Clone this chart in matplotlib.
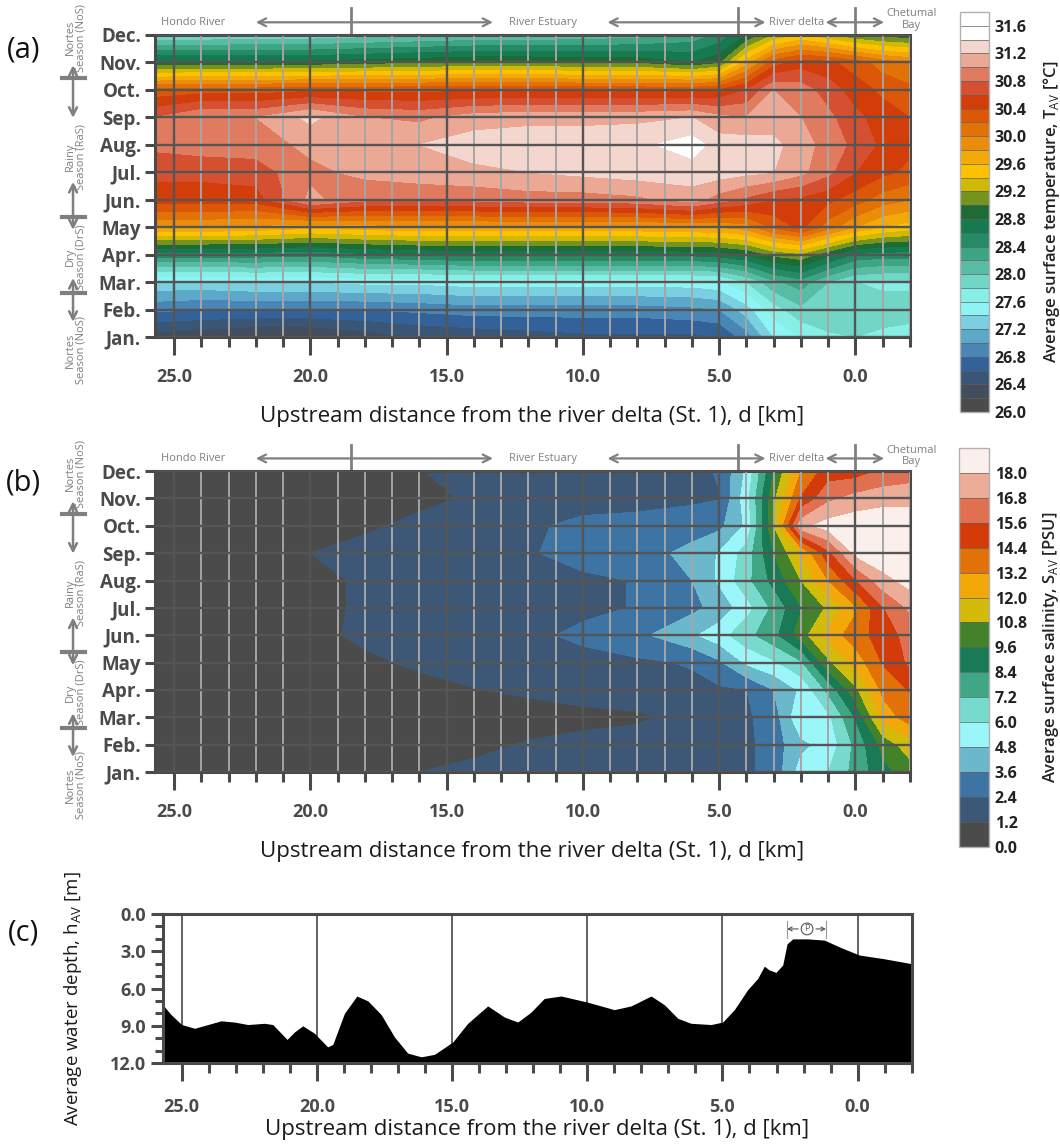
import numpy as np
import matplotlib
matplotlib.use("Agg")
import matplotlib.pyplot as plt
from matplotlib import transforms
from matplotlib.lines import Line2D
from matplotlib.ticker import MultipleLocator

plt.rcParams['font.family'] = ['Open Sans', 'DejaVu Sans']
plt.rcParams['mathtext.fontset'] = 'custom'
plt.rcParams['mathtext.rm'] = 'Open Sans'

# Sampled columns along the river, upstream distance from the delta [km]
dist_km = [25.7, 24, 22, 20, 18, 16, 14, 12, 10, 8, 6, 5, 4, 3, 2, 1, 0, -1, -2]
month_num = list(range(1, 13))
month_labels = ['Jan.', 'Feb.', 'Mar.', 'Apr.', 'May', 'Jun.',
                'Jul.', 'Aug.', 'Sep.', 'Oct.', 'Nov.', 'Dec.']

# (a) average surface temperature [degC], one row per month (Jan..Dec)
temp_av = [
    [26.3, 26.25, 26.15, 26.15, 26.3, 26.4, 26.45, 26.5, 26.55, 26.55, 26.55, 26.6, 26.9, 27.4, 27.6, 27.75, 27.8, 27.75, 27.7],
    [26.85, 26.8, 26.8, 26.8, 26.8, 26.85, 26.9, 26.9, 26.9, 26.9, 26.95, 27.0, 27.3, 27.7, 27.95, 28.0, 27.95, 27.9, 27.9],
    [27.35, 27.35, 27.4, 27.4, 27.45, 27.45, 27.5, 27.5, 27.5, 27.5, 27.5, 27.55, 27.8, 28.15, 28.3, 28.0, 27.8, 27.75, 27.75],
    [28.5, 28.5, 28.5, 28.45, 28.55, 28.6, 28.65, 28.65, 28.65, 28.65, 28.65, 28.7, 28.8, 29.05, 29.15, 28.85, 28.55, 28.5, 28.5],
    [29.8, 29.8, 29.75, 29.65, 29.7, 29.75, 29.75, 29.75, 29.75, 29.75, 29.8, 29.8, 29.9, 30.25, 30.45, 30.1, 29.8, 29.6, 29.5],
    [30.5, 30.5, 30.5, 31.05, 30.85, 30.85, 30.85, 30.9, 30.9, 30.95, 31.1, 30.9, 30.75, 30.6, 30.55, 30.45, 30.3, 30.1, 30.0],
    [30.65, 30.65, 30.7, 30.95, 31.05, 31.1, 31.15, 31.2, 31.25, 31.3, 31.3, 31.3, 31.25, 31.2, 31.05, 30.85, 30.6, 30.45, 30.35],
    [30.85, 30.9, 30.9, 31.05, 31.1, 31.2, 31.3, 31.3, 31.3, 31.35, 31.5, 31.3, 31.3, 31.25, 31.1, 30.9, 30.75, 30.55, 30.45],
    [30.8, 31.0, 31.0, 31.25, 31.0, 30.95, 31.1, 31.15, 31.15, 31.15, 31.2, 31.05, 31.0, 31.1, 31.0, 30.85, 30.65, 30.5, 30.4],
    [30.25, 30.3, 30.3, 30.35, 30.35, 30.35, 30.35, 30.35, 30.35, 30.35, 30.35, 30.4, 30.6, 31.0, 30.9, 30.7, 30.5, 30.35, 30.25],
    [28.85, 28.85, 28.85, 28.85, 28.9, 28.95, 29.0, 29.0, 28.95, 28.95, 28.8, 28.95, 29.7, 30.3, 30.5, 30.45, 30.3, 30.1, 30.0],
    [27.8, 27.8, 27.85, 27.85, 27.9, 27.95, 28.0, 28.0, 28.05, 28.1, 28.25, 28.45, 28.8, 29.2, 29.4, 29.2, 29.0, 28.9, 28.85],
]

# (b) average surface salinity [PSU], one row per month (Jan..Dec)
sal_av = [
    [0.5, 0.5, 0.5, 0.6, 0.8, 1.2, 1.5, 1.7, 1.8, 1.9, 1.9, 2.0, 2.2, 2.8, 5.3, 6.0, 7.6, 9.2, 10.2],
    [0.4, 0.4, 0.4, 0.4, 0.5, 0.7, 0.9, 1.3, 1.6, 1.8, 1.9, 2.0, 2.1, 3.0, 4.5, 5.2, 7.5, 10.0, 11.5],
    [0.3, 0.3, 0.3, 0.3, 0.4, 0.5, 0.6, 0.7, 0.8, 1.0, 1.6, 1.9, 2.2, 3.0, 5.8, 5.7, 8.5, 12.5, 13.8],
    [0.4, 0.4, 0.4, 0.5, 0.7, 0.9, 1.15, 1.4, 1.8, 1.9, 2.1, 2.2, 2.4, 3.6, 5.0, 7.5, 10.5, 13.5, 14.5],
    [0.5, 0.5, 0.5, 0.8, 1.05, 1.35, 1.8, 2.0, 2.1, 2.2, 2.5, 3.4, 5.0, 5.8, 7.0, 10.5, 12.5, 14.5, 15.8],
    [0.5, 0.5, 0.6, 1.0, 1.35, 1.8, 2.0, 2.2, 2.6, 3.3, 4.6, 5.5, 6.8, 8.0, 10.2, 12.5, 13.8, 15.0, 16.0],
    [0.5, 0.5, 0.6, 0.9, 1.35, 1.7, 1.9, 2.1, 2.2, 2.45, 3.3, 4.0, 5.5, 7.5, 9.5, 11.0, 13.0, 15.5, 17.0],
    [0.5, 0.5, 0.6, 0.9, 1.35, 1.7, 1.9, 2.1, 2.2, 2.45, 3.6, 5.0, 6.8, 8.8, 10.8, 13.2, 15.5, 17.5, 18.5],
    [0.5, 0.5, 0.6, 1.2, 1.6, 1.8, 2.0, 2.3, 2.8, 3.0, 4.0, 4.9, 6.5, 9.6, 12.0, 15.2, 18.3, 19.0, 19.0],
    [0.5, 0.5, 0.5, 0.7, 1.0, 1.5, 1.8, 2.2, 2.7, 2.8, 3.0, 3.3, 5.0, 10.8, 17.6, 18.5, 18.8, 19.0, 19.0],
    [0.5, 0.5, 0.5, 0.5, 0.6, 0.9, 1.35, 1.8, 1.9, 2.0, 2.2, 2.35, 5.5, 10.5, 14.5, 16.5, 17.2, 17.5, 17.5],
    [0.5, 0.5, 0.5, 0.6, 0.8, 1.15, 1.6, 1.8, 1.9, 2.0, 2.1, 2.5, 5.0, 9.6, 13.2, 15.0, 15.0, 15.8, 16.2],
]

# (c) average water depth profile
depth_km = [25.7, 25.39, 25.0, 24.52, 24.03, 23.54, 23.05, 22.55, 21.94, 21.63, 21.1, 20.83,
            20.52, 20.09, 19.6, 19.41, 18.98, 18.52, 18.11, 17.62, 17.13, 16.64, 16.14, 15.65,
            14.97, 14.42, 13.68, 13.06, 12.57, 12.08, 11.59, 10.97, 9.98, 9.0, 8.38, 7.64,
            7.15, 6.65, 6.16, 5.42, 4.99, 4.56, 4.07, 3.7, 3.45, 3.27, 3.02, 2.77, 2.61,
            2.4, 1.85, 1.23, 0.62, -0.06, -0.98, -2.0]
depth_m = [7.3, 8.1, 8.9, 9.2, 8.9, 8.6, 8.7, 8.9, 8.8, 8.9, 10.1, 9.5,
           9.0, 9.6, 10.7, 10.5, 8.0, 6.6, 7.0, 8.1, 9.9, 11.2, 11.5, 11.3,
           10.3, 8.8, 7.4, 8.3, 8.7, 7.9, 6.8, 6.6, 7.1, 7.7, 7.4, 6.6,
           7.3, 8.4, 8.8, 8.9, 8.7, 7.7, 6.1, 5.2, 4.2, 4.5, 4.7, 4.1, 2.4,
           2.0, 2.0, 2.1, 2.7, 3.3, 3.6, 4.0]

temp_levels = np.round(np.arange(26.0, 31.81, 0.2), 1)
temp_ticks = np.round(np.arange(26.0, 31.61, 0.4), 1)
temp_colors = ['#4b4b4b', '#424e5e', '#3a5677', '#33629a', '#4a86b5', '#5ca8c8', '#7acfe0',
               '#8ef5f7', '#88efe6', '#72d6c6', '#58bca5', '#3ea584', '#258a66', '#157a4f',
               '#1e6b35', '#77931f', '#d1b901', '#fcc200', '#f3a908', '#eb8d0b', '#e37206',
               '#dc5808', '#d23d0a', '#d55030', '#e07b5f', '#eaa895', '#f3d6cd', '#ffffff', '#ffffff']
sal_levels = np.round(np.arange(0.0, 19.21, 1.2), 1)
sal_ticks = np.round(np.arange(0.0, 18.01, 1.2), 1)
sal_colors = ['#4b4b4b', '#3d5877', '#3e74a4', '#6bb8cd', '#9af6f8', '#76dacd', '#3fa785',
              '#1a7a55', '#42822a', '#d3bb0a', '#f2a808', '#e27207', '#d43b0a', '#e0704f',
              '#ebac98', '#fbefeb']

dark = '#4a4a4a'
gray = '#7f7f7f'
xlabel = 'Upstream distance from the river delta (St. 1), d [km]'
major_km = [25, 20, 15, 10, 5, 0]

fig = plt.figure(figsize=(10.6, 11.47), dpi=100)


def style_x(ax, pad, labelpad):
    ax.set_xlim(25.7, -2.0)
    ax.set_xticks(major_km)
    ax.set_xticklabels([f'{v:.1f}' for v in major_km], fontweight='bold', fontsize=13, color=dark)
    ax.xaxis.set_minor_locator(MultipleLocator(1))
    ax.tick_params(axis='x', which='major', length=13, width=2.2, color=dark, pad=pad)
    ax.tick_params(axis='x', which='minor', length=7, width=2.2, color=dark)
    for s in ax.spines.values():
        s.set_color(dark)
        s.set_linewidth(2.2)
    ax.set_xlabel(xlabel, fontsize=16, color='#1a1a1a', labelpad=labelpad)


def style_map(ax):
    style_x(ax, 9, 15)
    ax.set_ylim(1, 12)
    ax.set_yticks(month_num)
    ax.set_yticklabels(month_labels, fontweight='bold', fontsize=13.5, color=dark)
    ax.tick_params(axis='y', length=7, width=2.2, color=dark, pad=3)
    ax.grid(which='minor', axis='x', color='#a6a6a6', lw=1.4)
    ax.grid(which='major', axis='x', color='#555555', lw=1.7)
    ax.grid(which='major', axis='y', color='#555555', lw=1.7)
    ax.set_axisbelow(False)


def season_marks(ax):
    tr = transforms.blended_transform_factory(fig.transFigure, ax.transData)
    for txt, m in (('Nortes\nSeason (NoS)', 11.9), ('Rainy\nSeason (RaS)', 7.56),
                   ('Dry\nSeason (DrS)', 3.91), ('Nortes\nSeason (NoS)', 0.53)):
        ax.text(0.0715, m, txt, transform=tr, rotation=90, ha='center', va='center',
                fontsize=8, color=gray, linespacing=1.0)
    for bar, up, down in ((10.43, 10.9, 8.98), (5.37, 6.65, 4.9), (2.6, 3.15, 1.55)):
        ax.add_artist(Line2D([0.0585, 0.0802], [bar, bar], transform=tr, color=gray,
                             lw=3, clip_on=False))
        for end in (up, down):
            ax.annotate('', xy=(0.0689, end), xytext=(0.0689, bar), xycoords=tr, textcoords=tr,
                        annotation_clip=False,
                        arrowprops=dict(arrowstyle='->', color=gray, lw=1.8,
                                        shrinkA=0, shrinkB=0, mutation_scale=14))


def reach_marks(ax):
    tr = transforms.blended_transform_factory(ax.transData, ax.transAxes)
    for d in (18.5, 4.3, 0.0):
        ax.add_artist(Line2D([d, d], [1.0, 1.088], transform=tr, color=gray, lw=2, clip_on=False))
    for x0, x1 in ((18.5, 22.0), (18.5, 13.3), (4.3, 9.1), (4.3, 3.3), (0.0, 1.1), (0.0, -1.05)):
        ax.annotate('', xy=(x1, 1.042), xytext=(x0, 1.042), xycoords=tr, textcoords=tr,
                    annotation_clip=False,
                    arrowprops=dict(arrowstyle='->', color=gray, lw=1.6,
                                    shrinkA=0, shrinkB=0, mutation_scale=14))
    for txt, d in (('Hondo River', 24.3), ('River Estuary', 11.45), ('River delta', 2.17)):
        ax.text(d, 1.042, txt, transform=tr, ha='center', va='center', fontsize=8, color=gray)
    ax.text(-2.05, 1.05, 'Chetumal\nBay', transform=tr, ha='center', va='center',
            fontsize=8, color=gray, linespacing=1.1)


def add_colorbar(cf, rect, ticks, label):
    cax = fig.add_axes(rect)
    cb = fig.colorbar(cf, cax=cax, ticks=ticks, drawedges=True)
    cb.outline.set_edgecolor('#b0b0b0')
    cb.outline.set_linewidth(1.0)
    cb.dividers.set_color('#606060')
    cb.dividers.set_linewidth(0.5)
    cax.tick_params(length=0, pad=4)
    cax.set_yticklabels([f'{t:.1f}' for t in ticks], fontweight='bold', fontsize=11.5, color='#222222')
    cb.set_label(label, fontsize=12, fontweight='semibold', color='#222222', labelpad=10)


# (a) temperature
ax_a = fig.add_axes([0.1462, 0.7062, 0.7123, 0.2633])
cf_a = ax_a.contourf(dist_km, month_num, temp_av, levels=temp_levels, colors=temp_colors)
style_map(ax_a)
season_marks(ax_a)
reach_marks(ax_a)
add_colorbar(cf_a, [0.9057, 0.6408, 0.0274, 0.3487], temp_ticks,
             r'Average surface temperature, T$_{\mathrm{AV}}$ [°C]')

# (b) salinity
ax_b = fig.add_axes([0.1462, 0.3269, 0.7123, 0.2624])
cf_b = ax_b.contourf(dist_km, month_num, sal_av, levels=sal_levels, colors=sal_colors)
style_map(ax_b)
season_marks(ax_b)
reach_marks(ax_b)
add_colorbar(cf_b, [0.9047, 0.2616, 0.0283, 0.3479], sal_ticks,
             r'Average surface salinity, S$_{\mathrm{AV}}$ [PSU]')

# (c) depth profile
ax_c = fig.add_axes([0.1535, 0.0732, 0.7066, 0.1299])
ax_c.fill_between(depth_km, depth_m, 12, color='black', lw=0, zorder=2)
style_x(ax_c, 12, 2)
ax_c.set_ylim(12, 0)
ax_c.set_yticks([0, 3, 6, 9, 12])
ax_c.set_yticklabels(['0.0', '3.0', '6.0', '9.0', '12.0'], fontweight='bold', fontsize=13, color=dark)
ax_c.yaxis.set_minor_locator(MultipleLocator(1))
ax_c.tick_params(axis='y', which='major', length=9, width=2.2, color=dark, pad=3)
ax_c.tick_params(axis='y', which='minor', length=6, width=2.2, color=dark)
ax_c.grid(which='major', axis='x', color='#555555', lw=1.3)
ax_c.set_axisbelow(True)
ax_c.set_ylabel(r'Average water depth, h$_{\mathrm{AV}}$ [m]', fontsize=13.5, color='#1a1a1a')
ax_c.yaxis.set_label_coords(-0.105, 0.43)

# pycnocline marker (P) over the shallow delta reach
ax_c.text(1.87, 1.2, 'P', ha='center', va='center', fontsize=6.5, color='#555555', zorder=5,
          bbox=dict(boxstyle='circle,pad=0.15', fc='white', ec='#555555', lw=0.8))
for x0, x1 in ((2.2, 2.61), (1.54, 1.17)):
    ax_c.annotate('', xy=(x1, 1.2), xytext=(x0, 1.2),
                  arrowprops=dict(arrowstyle='->', color='#555555', lw=0.8,
                                  shrinkA=0, shrinkB=0, mutation_scale=7))
for d in (2.61, 1.17):
    ax_c.plot([d, d], [0.6, 1.9], color='#999999', lw=0.8)

for lab, y in (('(a)', 0.956), ('(b)', 0.579), ('(c)', 0.187)):
    fig.text(0.022, y, lab, fontsize=21, color='#111111', ha='center', va='center')

fig.savefig('out.png', dpi=100)
